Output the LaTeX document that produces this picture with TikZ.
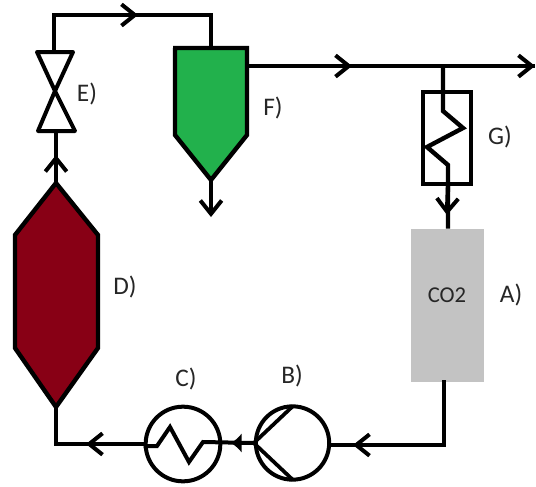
\documentclass[tikz,border=0pt]{standalone}
\usepackage{fontspec}
\setmainfont{Carlito}
\usetikzlibrary{arrows.meta}
\definecolor{lbl}{HTML}{262626}
\definecolor{vesselgreen}{HTML}{22B14C}
\definecolor{vesselred}{HTML}{880015}
\definecolor{tankgray}{HTML}{C3C3C3}
\tikzset{
  x=0.75pt,y=-0.75pt,
  pipe/.style={line width=3.3pt,line join=miter,black},
  thinpipe/.style={line width=3pt,line join=miter,black},
  barb/.style={-{Straight Barb[length=10pt,width=16pt,line width=3pt]}},
  solidtip/.style={-{Latex[length=8pt,width=15pt]}},
  lab/.style={font=\fontsize{19}{22}\selectfont,text=lbl,inner sep=0pt},
  exch/.style={circle,draw=black,line width=3pt,minimum size=56pt,inner sep=0pt},
}
\begin{document}
\begin{tikzpicture}
\useasboundingbox (0,0) rectangle (536,486);
% anchor points
\coordinate (vt) at (54,52);
\coordinate (vm) at (55,91);
\coordinate (vb) at (56,131);
\coordinate (corner1) at (54,15);
\coordinate (corner2) at (211,15);
\coordinate (ftop) at (211,48);
\coordinate (tip1) at (138,15);
\coordinate (fapex) at (211,180);
\coordinate (fout) at (211,217);
\coordinate (fside) at (248,66);
\coordinate (tip2) at (352,66);
\coordinate (junc) at (443,66);
\coordinate (endp) at (535,66);
\coordinate (gz0) at (443,111);
\coordinate (gz1) at (463,128);
\coordinate (gz2) at (427,147);
\coordinate (gz3) at (448,165);
\coordinate (gout) at (448,186);
\coordinate (tip3) at (447,215);
\coordinate (dtop) at (56,183);
\coordinate (tip4) at (56,155);
\coordinate (dbot) at (56,407);
\coordinate (dcorner) at (56,444);
\coordinate (tip5) at (86,444);
\coordinate (acorner) at (444,445);
\coordinate (tip6) at (353,445);
\coordinate (tip7) at (231,443);
% vessels
\draw[pipe,fill=vesselgreen] (173,48) -- (249,48) -- (247,48) -- (247,135) -- (fapex) -- (175,135) -- (175,48) -- cycle;
\draw[pipe,fill=vesselred] (dtop) -- (98,235) -- (98,348) -- (dbot) -- (15,348) -- (15,235) -- cycle;
\node[fill=tankgray,minimum width=54.75pt,minimum height=114.75pt,inner sep=0pt] (tank) at (447.5,305.5) {};
\node[text=lbl,font=\fontsize{17}{19}\selectfont,inner sep=0pt] (co2) at (447,295) {CO2};
% valve E
\draw[thinpipe,line join=round] (vm) -- (37,52) -- (73,52) -- cycle;
\draw[thinpipe,line join=round] (vm) -- (38,131) -- (75,131) -- cycle;
% pipes: each run is drawn whole, the barb is laid over it
\draw[pipe] (vt) -- (corner1) -- (corner2) -- (ftop);
\draw[pipe,barb] (corner1) -- (tip1);
\draw[pipe,barb] (fapex) -- (fout);
\draw[thinpipe] (fside) -- (endp);
\draw[thinpipe,barb] (fside) -- (tip2);
\draw[pipe,barb] (junc) -- (endp);
\draw[pipe] (dtop) -- (vb);
\draw[pipe,barb] (dtop) -- (tip4);
% exchanger G
\node[draw=black,line width=3pt,minimum width=35.5pt,minimum height=69pt,inner sep=0pt] (gbox) at (447,138) {};
\draw[pipe] (junc) -- (gz0) -- (gz1) -- (gz2) -- (gz3) -- (gout) -- (tank.north -| gout);
\draw[pipe,barb] (gout) -- (tip3);
% circles
\node[exch,minimum size=55pt] (pumpb) at (292.5,443) {};
\node[exch,minimum size=56pt] (exchc) at (183,444) {};
\draw[line width=2.8pt,line join=round] (pumpb.west) -- (293,406);
\draw[line width=2.8pt,line join=round] (pumpb.west) -- (293,480);
% bottom line
\draw[pipe] (tank.south -| acorner) ++(0,-2) -- (acorner) -- (pumpb.east |- acorner);
\draw[pipe,barb] (acorner) -- (tip6);
\draw[thinpipe] (pumpb.west) -- (203,442) -- (189,462) -- (170,427) -- (157,446) -- (exchc.west |- 0,446);
\draw[pipe,solidtip] (pumpb.west) -- (tip7);
\draw[pipe] (exchc.west) -- (dcorner) -- (dbot);
\draw[pipe,barb] (exchc.west) -- (tip5);
% labels
\node[lab] (le) at (87,94) {E)};
\node[lab] (lf) at (273,108) {F)};
\node[lab] (lg) at (500,137) {G)};
\node[lab] (ld) at (125,287) {D)};
\node[lab] (lc) at (186,379) {C)};
\node[lab] (lb) at (292,376) {B)};
\node[lab] (la) at (511,295) {A)};
\end{tikzpicture}
\end{document}
